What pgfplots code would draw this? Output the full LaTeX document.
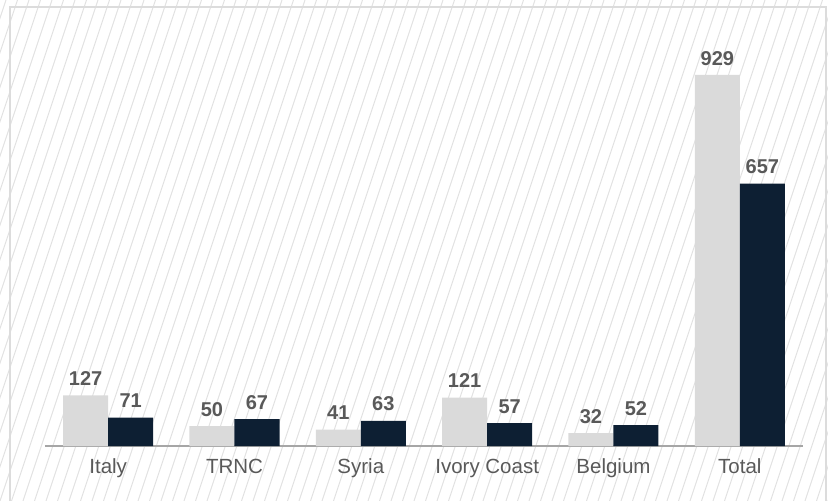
\documentclass[border=0pt]{standalone}
\usepackage{pgfplots}
\pgfplotsset{compat=1.18}
\usepackage{fontspec}
\setmainfont{Liberation Sans}
\definecolor{navy}{HTML}{0D1F33}
\definecolor{concrete}{HTML}{DADADA}
\definecolor{lblgray}{HTML}{595959}
\definecolor{hatch}{HTML}{E2E2E2}
\definecolor{frame}{HTML}{DCDCDC}
\definecolor{axgray}{HTML}{A6A6A6}
\begin{document}
\begin{tikzpicture}[x=1pt,y=1pt]
\useasboundingbox (0,0) rectangle (828,501);
\begin{scope}
\clip (0,0) rectangle (828,501);
\foreach \i in {-20,...,75} {
  \draw[hatch, line width=1pt] (\i*11.5, 0) -- (\i*11.5+167, 501);
}
\end{scope}
\draw[frame, line width=1.2pt] (10,0) -- (10,494) -- (826,494) -- (826,0);
\begin{axis}[
  at={(45pt,55pt)}, anchor=south west,
  scale only axis, width=758pt, height=439pt,
  xmin=-0.5, xmax=5.5, ymin=0, ymax=1099,
  axis x line=bottom, axis y line=none,
  x axis line style={axgray, line width=2pt, -},
  xtick={0,1,2,3,4,5},
  xticklabels={Italy, TRNC, Syria, Ivory Coast, Belgium, Total},
  major tick length=0pt,
  xticklabel style={font=\fontsize{20.5}{20.5}\selectfont, text=lblgray, anchor=base, yshift=-27pt, inner sep=0pt},
  ybar=0pt, bar width=45pt,
  nodes near coords,
  /pgf/number format/assume math mode=true,
  every node near coord/.append style={font=\fontsize{20}{20}\selectfont\bfseries, text=lblgray, inner sep=0pt, yshift=9.5pt},
  clip=false,
]
\addplot[fill=concrete, draw=none] coordinates {(0,127) (1,50) (2,41) (3,121) (4,32) (5,929)};
\addplot[fill=navy, draw=none] coordinates {(0,71) (1,67) (2,63) (3,57) (4,52) (5,657)};
\end{axis}
\end{tikzpicture}
\end{document}
